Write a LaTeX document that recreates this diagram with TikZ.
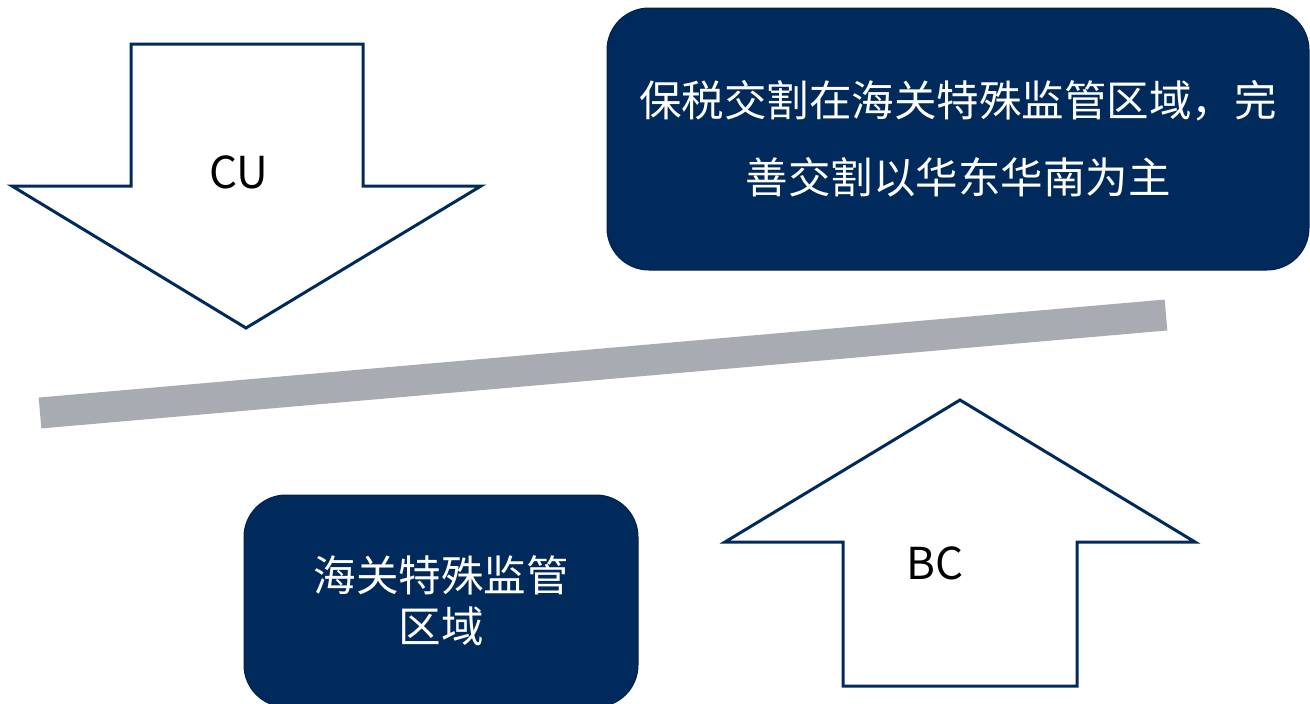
\documentclass[tikz,border=0pt]{standalone}
\usepackage{fontspec}
\setmainfont{Noto Sans CJK SC}
\definecolor{navy}{HTML}{002A5C}
\definecolor{bargray}{HTML}{A9ABB3}
\begin{document}
\begin{tikzpicture}[x=1pt,y=-1pt]
\useasboundingbox (0,0) rectangle (1310,704);
\tikzset{box/.style={draw=navy!80!black,fill=navy,rounded corners=42pt,text=white,align=center,inner sep=0pt,line width=1pt,font=\fontsize{42.5}{51}\selectfont},
arrowshape/.style={draw=navy,line width=3pt,line join=miter,fill=white}}
% arrows
\draw[arrowshape] (131,44)--(363,44)--(363,186)--(481,186)--(246,328)--(12,186)--(131,186)--cycle;
\draw[arrowshape] (843,686)--(1077,686)--(1077,542)--(1195,542)--(960,400)--(725,542)--(843,542)--cycle;
\node[name=cu] at (239,172){\fontsize{44}{50}\selectfont CU};
\node[name=bc] at (935,563){\fontsize{44}{50}\selectfont BC};
% bar
\coordinate (l) at (40,413);
\coordinate (r) at (1166,315);
\draw[bargray,line width=31pt] (l)--(r);
% boxes
\node[box,name=top,minimum width=702pt,minimum height=262pt] at (958,139){保税交割在海关特殊监管区域，完\\[26pt]善交割以华东华南为主};
\node[box,name=bot,minimum width=394pt,minimum height=212pt] at (441,601){海关特殊监管\\区域};
\end{tikzpicture}
\end{document}
